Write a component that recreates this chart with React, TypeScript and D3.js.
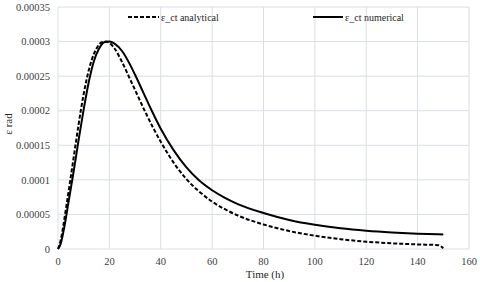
import React from 'react';
import * as d3 from 'd3';

// hours
const analyticalT = [0, 1, 2, 3, 5, 7, 9, 11, 13, 15, 17, 18.5, 20, 22, 25, 28, 30, 34, 40, 45, 50, 55, 60, 65, 70, 80, 90, 100, 110, 120, 130, 140, 148, 150];
const analyticalV = [0, 0.000012, 0.000032, 0.000056, 0.000105, 0.000155, 0.000203, 0.000243, 0.000272, 0.00029, 0.000299, 0.0003, 0.000298, 0.00029, 0.00027, 0.000246, 0.00023, 0.000198, 0.000155, 0.000125, 0.000101, 0.000083, 0.0000685, 0.0000575, 0.0000485, 0.0000355, 0.000026, 0.0000192, 0.0000142, 0.0000106, 0.0000082, 0.0000066, 0.0000056, 0.000001];

const numericalT = [0, 1, 2, 3, 4, 6, 8, 10, 12, 14, 16, 18, 20, 22, 25, 28, 30, 33, 36.5, 40, 45, 50, 55, 60, 65, 70, 80, 90, 100, 110, 120, 130, 140, 150];
const numericalV = [0, 0.000007, 0.000023, 0.000043, 0.000066, 0.00011, 0.000157, 0.000202, 0.000242, 0.000272, 0.00029, 0.000299, 0.0003, 0.000297, 0.000286, 0.000267, 0.000252, 0.000228, 0.0002, 0.000174, 0.000143, 0.000118, 0.000099, 0.000085, 0.000074, 0.000065, 0.000052, 0.000042, 0.000035, 0.00003, 0.0000265, 0.000024, 0.0000222, 0.000021];

const xTicks = [0, 20, 40, 60, 80, 100, 120, 140, 160];
const yTicks = [0, 0.00005, 0.0001, 0.00015, 0.0002, 0.00025, 0.0003, 0.00035];
const yTickLabels = ['0', '0.00005', '0.0001', '0.00015', '0.0002', '0.00025', '0.0003', '0.00035'];

const W = 480;
const H = 282;
const font = '"Liberation Serif", "Times New Roman", Times, "DejaVu Serif", serif';
const gridColor = '#d9dee7';

export default function App() {
  const x = d3.scaleLinear().domain([0, 160]).range([58, 469]);
  const y = d3.scaleLinear().domain([0, 0.00035]).range([249, 7]);

  const line = d3.line<[number, number]>()
    .x(d => x(d[0]))
    .y(d => y(d[1]))
    .curve(d3.curveMonotoneX);

  const analytical = analyticalT.map((t, i) => [t, analyticalV[i]] as [number, number]);
  const numerical = numericalT.map((t, i) => [t, numericalV[i]] as [number, number]);

  return (
    <svg width={W} height={H} style={{ position: 'absolute', left: 0, top: 0, background: '#fff', fontFamily: font }}>
      <g>
        {yTicks.map(v => (
          <line key={'gy' + v} x1={x(0)} x2={x(160)} y1={y(v)} y2={y(v)} stroke={gridColor} strokeWidth={1} />
        ))}
        {xTicks.map(v => (
          <line key={'gx' + v} x1={x(v)} x2={x(v)} y1={y(0)} y2={y(0.00035)} stroke={gridColor} strokeWidth={1} />
        ))}
      </g>
      <g style={{ fontFamily: font, fontSize: 10.5 }} fill="#404040">
        {yTicks.map((v, i) => (
          <text key={'ty' + v} x={50} y={y(v)} dy="0.35em" textAnchor="end">{yTickLabels[i]}</text>
        ))}
        {xTicks.map(v => (
          <text key={'tx' + v} x={x(v)} y={265} textAnchor="middle">{v}</text>
        ))}
      </g>
      <text x={265} y={278} textAnchor="middle" style={{ fontFamily: font, fontSize: 11 }} fill="#262626">Time (h)</text>
      <text transform="translate(12,124) rotate(-90)" textAnchor="middle" style={{ fontFamily: font, fontSize: 11 }} fill="#262626">ε rad</text>

      <path d={line(analytical) || ''} fill="none" stroke="#000" strokeWidth={2} strokeDasharray="4 2" />
      <path d={line(numerical) || ''} fill="none" stroke="#000" strokeWidth={2} />

      <g style={{ fontFamily: font, fontSize: 10 }} fill="#262626">
        <line x1={128} x2={159} y1={17} y2={17} stroke="#000" strokeWidth={2} strokeDasharray="4 2" />
        <text x={161} y={20.5}>ε_ct analytical</text>
        <line x1={313} x2={343} y1={17} y2={17} stroke="#000" strokeWidth={2} />
        <text x={345} y={20.5}>ε_ct numerical</text>
      </g>
    </svg>
  );
}
